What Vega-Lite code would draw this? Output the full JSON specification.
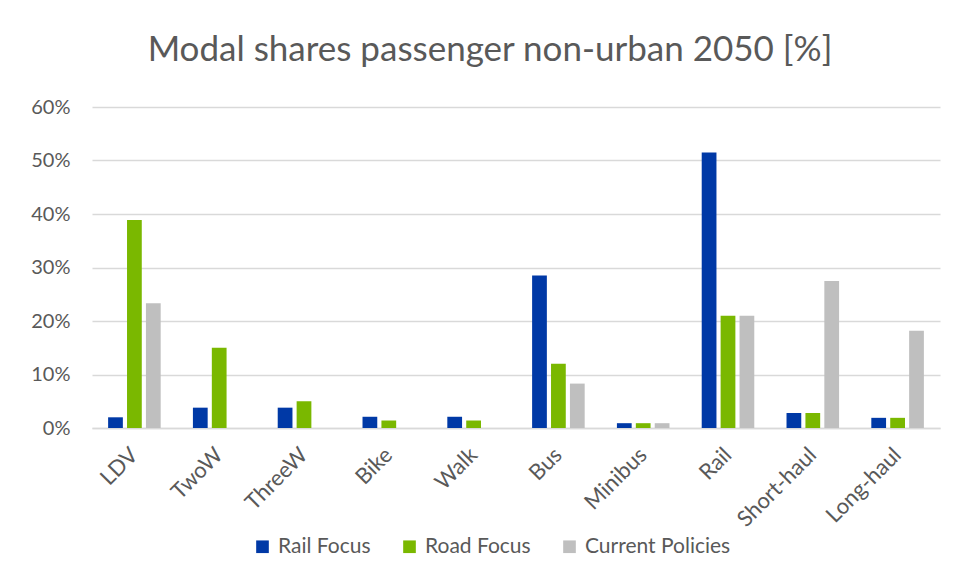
{
  "$schema": "https://vega.github.io/schema/vega-lite/v6.json",
  "width": 848,
  "height": 321,
  "autosize": {"type": "none"},
  "padding": {"left": 92, "top": 107, "right": 18, "bottom": 150},
  "background": "white",
  "title": {
    "text": "Modal shares passenger non-urban 2050 [%]",
    "font": "Lato",
    "fontSize": 35,
    "fontWeight": "normal",
    "color": "#595959",
    "anchor": "middle",
    "dx": -26,
    "offset": 29
  },
  "data": {
    "values": [
      {"mode": "LDV", "scenario": "Rail Focus", "share": 2.0},
      {"mode": "LDV", "scenario": "Road Focus", "share": 38.9},
      {"mode": "LDV", "scenario": "Current Policies", "share": 23.3},
      {"mode": "TwoW", "scenario": "Rail Focus", "share": 3.8},
      {"mode": "TwoW", "scenario": "Road Focus", "share": 15.0},
      {"mode": "TwoW", "scenario": "Current Policies", "share": 0},
      {"mode": "ThreeW", "scenario": "Rail Focus", "share": 3.8},
      {"mode": "ThreeW", "scenario": "Road Focus", "share": 5.0},
      {"mode": "ThreeW", "scenario": "Current Policies", "share": 0},
      {"mode": "Bike", "scenario": "Rail Focus", "share": 2.1},
      {"mode": "Bike", "scenario": "Road Focus", "share": 1.4},
      {"mode": "Bike", "scenario": "Current Policies", "share": 0},
      {"mode": "Walk", "scenario": "Rail Focus", "share": 2.1},
      {"mode": "Walk", "scenario": "Road Focus", "share": 1.4},
      {"mode": "Walk", "scenario": "Current Policies", "share": 0},
      {"mode": "Bus", "scenario": "Rail Focus", "share": 28.5},
      {"mode": "Bus", "scenario": "Road Focus", "share": 12.0},
      {"mode": "Bus", "scenario": "Current Policies", "share": 8.3},
      {"mode": "Minibus", "scenario": "Rail Focus", "share": 0.9},
      {"mode": "Minibus", "scenario": "Road Focus", "share": 0.9},
      {"mode": "Minibus", "scenario": "Current Policies", "share": 0.9},
      {"mode": "Rail", "scenario": "Rail Focus", "share": 51.5},
      {"mode": "Rail", "scenario": "Road Focus", "share": 21.0},
      {"mode": "Rail", "scenario": "Current Policies", "share": 21.0},
      {"mode": "Short-haul", "scenario": "Rail Focus", "share": 2.8},
      {"mode": "Short-haul", "scenario": "Road Focus", "share": 2.8},
      {"mode": "Short-haul", "scenario": "Current Policies", "share": 27.5},
      {"mode": "Long-haul", "scenario": "Rail Focus", "share": 1.9},
      {"mode": "Long-haul", "scenario": "Road Focus", "share": 1.9},
      {"mode": "Long-haul", "scenario": "Current Policies", "share": 18.2}
    ]
  },
  "mark": {"type": "bar"},
  "encoding": {
    "x": {
      "field": "mode",
      "type": "nominal",
      "sort": null,
      "scale": {"paddingInner": 0.38, "paddingOuter": 0.19},
      "axis": {
        "title": null,
        "labelAngle": -45,
        "labelAlign": "right",
        "labelBaseline": "middle",
        "labelFont": "Lato",
        "labelFontSize": 22,
        "labelColor": "#595959",
        "labelPadding": 23,
        "labelDx": 7,
        "ticks": false,
        "domain": true,
        "domainColor": "#D9D9D9",
        "domainWidth": 1.5,
        "grid": false
      }
    },
    "xOffset": {
      "field": "scenario",
      "type": "nominal",
      "sort": ["Rail Focus", "Road Focus", "Current Policies"],
      "scale": {"paddingInner": 0.22, "paddingOuter": 0}
    },
    "y": {
      "field": "share",
      "type": "quantitative",
      "scale": {"domain": [0, 60], "nice": false},
      "axis": {
        "title": null,
        "values": [0, 10, 20, 30, 40, 50, 60],
        "labelExpr": "datum.value + '%'",
        "labelFont": "Lato",
        "labelFontSize": 20,
        "labelColor": "#595959",
        "labelPadding": 22,
        "ticks": false,
        "domain": false,
        "grid": true,
        "gridColor": "#D9D9D9",
        "gridWidth": 1.5
      }
    },
    "color": {
      "field": "scenario",
      "type": "nominal",
      "sort": ["Rail Focus", "Road Focus", "Current Policies"],
      "scale": {
        "domain": ["Rail Focus", "Road Focus", "Current Policies"],
        "range": ["#0039A6", "#7AB800", "#BFBFBF"]
      },
      "legend": {
        "title": null,
        "orient": "none",
        "direction": "horizontal",
        "legendX": 160,
        "legendY": 429,
        "symbolType": "square",
        "symbolSize": 160,
        "symbolStrokeWidth": 0,
        "labelFont": "Lato",
        "labelFontSize": 21,
        "labelColor": "#595959",
        "labelOffset": 5,
        "columnPadding": 28
      }
    }
  },
  "config": {
    "view": {"stroke": null}
  }
}
